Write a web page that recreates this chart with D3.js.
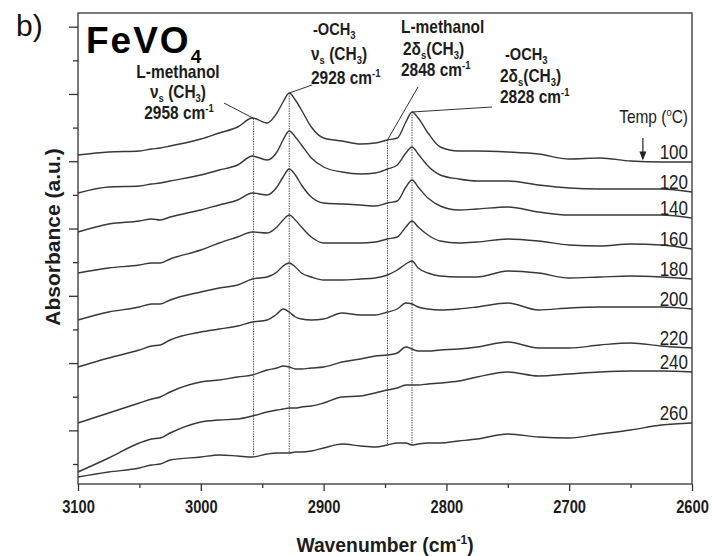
<!DOCTYPE html>
<html>
<head>
<meta charset="utf-8" />
<script src="https://d3js.org/d3.v7.min.js"></script>
<style>
  body { margin: 0; background: #fff; }
  svg { display: block; font-family: "Liberation Sans", Arial, sans-serif; }
  .curve { fill: none; stroke: #383838; stroke-width: 1.4px; }
  .marker { stroke: #555; stroke-width: 1px; stroke-dasharray: 1.5, 1; }
  .lead { stroke: #333; stroke-width: 1px; }
  .ann { font-weight: bold; fill: #1c1c1c; }
  .axis line { stroke: #333; stroke-width: 1.3px; }
  .axis path { display: none; }
  .axis text { font-family: "Liberation Sans", Arial, sans-serif; font-weight: bold; font-size: 17.5px; fill: #1c1c1c; }
  .temp { font-size: 20px; fill: #222; text-anchor: end; }
</style>
</head>
<body>
<svg width="712" height="556"></svg>
<script>
  // wavenumber grid (cm-1), shared by every spectrum
  const wavenumbers = [3100, 3075, 3050, 3040, 3033, 3025, 3000, 2985, 2970, 2958, 2946,
    2938, 2933, 2928, 2923, 2918, 2910, 2900, 2885, 2870, 2858, 2848, 2840, 2833, 2828,
    2823, 2815, 2805, 2790, 2775, 2750, 2725, 2700, 2675, 2650, 2625, 2600];

  const temps = [100, 120, 140, 160, 180, 200, 220, 240, 260];

  // stacked absorbance (a.u., offset)
  const s100 = [32.9, 33.2, 33.3, 33.5, 33.6, 33.8, 34.5, 35.1, 35.7, 36.6, 36.1, 37.1, 38.2, 39.1, 38.4, 37.4, 35.7, 34.6, 34.3, 34.0, 34.1, 34.4, 34.6, 36.2, 37.2, 36.6, 35.1, 33.7, 33.3, 33.3, 33.2, 33.0, 32.5, 32.6, 32.3, 32.2, 32.2];
  const s120 = [29.1, 29.7, 29.8, 30.0, 30.1, 30.3, 30.9, 31.4, 31.9, 32.8, 32.4, 33.2, 34.4, 35.3, 34.7, 33.9, 32.6, 31.7, 31.2, 31.0, 31.1, 31.5, 31.9, 33.1, 33.7, 33.0, 31.8, 30.9, 30.5, 30.3, 30.3, 29.9, 29.6, 29.5, 29.5, 29.5, 29.2];
  const s140 = [25.2, 26.0, 26.3, 26.5, 26.4, 26.7, 27.4, 27.9, 28.4, 29.1, 28.9, 29.7, 30.7, 31.5, 30.9, 29.9, 28.7, 28.1, 28.0, 27.9, 27.8, 28.1, 28.3, 29.7, 30.4, 29.7, 28.6, 27.8, 27.4, 27.5, 27.7, 27.2, 26.9, 26.9, 26.9, 26.9, 26.6];
  const s160 = [21.1, 21.6, 21.9, 22.1, 22.1, 22.5, 23.4, 24.1, 24.7, 25.2, 25.1, 25.7, 26.4, 26.9, 26.4, 25.7, 24.7, 24.1, 24.1, 24.1, 24.2, 24.5, 24.7, 25.7, 26.3, 25.7, 24.9, 24.3, 24.1, 24.2, 24.5, 24.3, 23.9, 23.8, 24.0, 23.9, 23.5];
  const s180 = [16.4, 17.2, 17.7, 18.0, 18.0, 18.4, 19.2, 19.6, 19.9, 20.5, 20.7, 21.2, 21.8, 22.1, 21.7, 21.1, 20.7, 20.4, 20.4, 20.5, 20.6, 20.9, 21.4, 22.0, 22.3, 21.6, 21.1, 20.8, 20.7, 20.7, 21.3, 21.1, 20.6, 20.7, 20.8, 20.7, 20.5];
  const s200 = [11.7, 12.6, 13.4, 13.8, 13.9, 14.4, 15.2, 15.5, 15.8, 16.2, 16.4, 17.0, 17.5, 17.2, 16.7, 16.5, 16.4, 16.5, 17.1, 16.9, 16.9, 17.2, 17.5, 18.1, 18.0, 17.7, 17.5, 17.4, 17.5, 17.7, 18.1, 17.4, 17.6, 17.7, 17.7, 17.7, 17.5];
  const s220 = [6.1, 7.1, 8.1, 8.5, 8.7, 9.2, 10.2, 10.4, 10.7, 10.9, 11.4, 11.6, 11.8, 11.7, 11.5, 11.5, 11.6, 11.7, 12.2, 12.5, 12.8, 12.9, 13.1, 13.7, 13.5, 13.3, 13.3, 13.4, 13.5, 13.7, 14.2, 13.6, 13.6, 13.9, 14.1, 13.8, 13.6];
  const s240 = [1.2, 2.6, 4.1, 4.5, 4.6, 5.1, 6.2, 6.4, 6.5, 6.8, 7.2, 7.4, 7.5, 7.6, 7.6, 7.7, 7.8, 8.1, 8.7, 8.8, 9.1, 9.4, 9.6, 9.9, 9.9, 9.9, 10.0, 10.1, 10.3, 10.7, 11.2, 10.8, 11.0, 11.2, 11.3, 11.3, 11.2];
  const s260 = [0.7, 1.2, 1.6, 1.9, 2.0, 2.4, 2.7, 2.9, 2.8, 2.7, 3.0, 3.1, 3.1, 3.1, 3.2, 3.2, 3.3, 3.6, 4.0, 3.8, 3.7, 3.9, 4.1, 4.1, 3.9, 4.0, 4.1, 4.1, 4.3, 4.5, 5.0, 4.7, 4.6, 5.0, 5.4, 5.9, 6.1];

  const spectra = [s100, s120, s140, s160, s180, s200, s220, s240, s260];

  // band positions marked by dotted lines
  const bands = [2957, 2928, 2848, 2828];
  const xMajor = [3100, 3000, 2900, 2800, 2700, 2600];
  const xMinor = [3050, 2950, 2850, 2750, 2650];
  const yTicks = d3.range(14).map((i) => 2 + i * 3.364);
  const arrowAt = 2640;

  const svg = d3.select("svg");
  const x = d3.scaleLinear().domain([3100, 2600]).range([78, 692]);
  const y = d3.scaleLinear().domain([0, 47.1]).range([484, 13]);

  function valueAt(s, wn) {
    for (let i = 0; i < wavenumbers.length - 1; i++) {
      const a = wavenumbers[i], b = wavenumbers[i + 1];
      if (wn <= a && wn >= b) {
        const t = (a - wn) / (a - b);
        return s[i] + t * (s[i + 1] - s[i]);
      }
    }
    return s[s.length - 1];
  }

  // axes
  const xg = svg.append("g").attr("class", "axis").attr("transform", "translate(0,484)")
    .call(d3.axisBottom(x).tickValues(xMajor).tickSize(7).tickPadding(10).tickFormat(d3.format("d")));
  xg.selectAll("text").attr("transform", "scale(0.84,1)");
  svg.append("g").attr("class", "axis").attr("transform", "translate(0,484)")
    .call(d3.axisBottom(x).tickValues(xMinor).tickSize(4).tickFormat(""));
  svg.append("g").attr("class", "axis").attr("transform", "translate(78,0)")
    .call(d3.axisLeft(y).tickValues(yTicks.filter((d, i) => i % 2 === 1)).tickSize(9).tickFormat(""));
  svg.append("g").attr("class", "axis").attr("transform", "translate(78,0)")
    .call(d3.axisLeft(y).tickValues(yTicks.filter((d, i) => i % 2 === 0)).tickSize(5).tickFormat(""));

  svg.append("rect").attr("x", 78).attr("y", 13).attr("width", 614).attr("height", 471)
    .attr("fill", "none").attr("stroke", "#333").attr("stroke-width", 1.3);

  // dotted band markers from top to bottom spectrum
  svg.selectAll(".marker").data(bands).enter().append("line")
    .attr("class", "marker")
    .attr("x1", (d) => x(d)).attr("x2", (d) => x(d))
    .attr("y1", (d) => y(valueAt(s100, d)))
    .attr("y2", (d) => y(valueAt(s260, d)));

  const line = d3.line()
    .x((d, i) => x(wavenumbers[i]))
    .y((d) => y(d))
    .curve(d3.curveMonotoneX);

  svg.selectAll(".curve").data(spectra).enter().append("path")
    .attr("class", "curve").attr("d", line);

  // temperature labels
  svg.selectAll(".temp").data(temps).enter().append("text")
    .attr("class", "temp")
    .attr("transform", (d, i) => `translate(688,${y(spectra[i][spectra[i].length - 1]) - 3}) scale(0.85,1)`)
    .text((d) => d);

  // Temp header + arrow
  const tt = svg.append("text").attr("transform", "translate(688,123) scale(0.86,1)").attr("text-anchor", "end")
    .style("font-size", "18px").attr("fill", "#1c1c1c");
  tt.append("tspan").text("Temp (");
  tt.append("tspan").attr("dy", -7).style("font-size", "11px").text("o");
  tt.append("tspan").attr("dy", 7).text("C)");
  const ax = x(arrowAt), ay = y(valueAt(s100, arrowAt)) - 1;
  svg.append("line").attr("x1", ax).attr("x2", ax).attr("y1", 138).attr("y2", ay - 4)
    .attr("stroke", "#222").attr("stroke-width", 1.2);
  svg.append("path").attr("d", `M${ax - 3.5},${ay - 9}L${ax},${ay}L${ax + 3.5},${ay - 9}Z`).attr("fill", "#222");

  // annotation text helper (condensed bold, with sub/superscripts)
  function rich(x0, y0, anchor, parts, size) {
    const t = svg.append("text").attr("class", "ann")
      .attr("transform", `translate(${x0},${y0}) scale(0.86,1)`)
      .attr("text-anchor", anchor).style("font-size", size + "px");
    let shift = 0;
    parts.forEach(([s, k]) => {
      const target = k === "sub" ? 4 : k === "sup" ? -7 : 0;
      t.append("tspan").attr("dy", target - shift)
        .style("font-size", k ? "11px" : null).text(s);
      shift = target;
    });
  }

  const vs = [["ν"], ["s", "sub"], [" (CH"], ["3", "sub"], [")"]];
  const d2 = [["2δ"], ["s", "sub"], ["(CH"], ["3", "sub"], [")"]];
  const och = [["-OCH"], ["3", "sub"]];

  rich(178, 78, "middle", [["L-methanol"]], 18);
  rich(178, 98, "middle", vs, 18);
  rich(179, 119, "middle", [["2958 cm"], ["-1", "sup"]], 18);

  rich(313, 35, "start", och, 17);
  rich(311, 60, "start", vs, 18);
  rich(311, 84, "start", [["2928 cm"], ["-1", "sup"]], 18);

  rich(401, 33, "start", [["L-methanol"]], 18);
  rich(403, 55, "start", d2, 18);
  rich(401, 76, "start", [["2848 cm"], ["-1", "sup"]], 18);

  rich(505, 60, "start", och, 17);
  rich(500, 82, "start", d2, 18);
  rich(500, 103, "start", [["2828 cm"], ["-1", "sup"]], 18);

  // leader lines from band peaks to labels
  const leadEnds = [[224, 103], [312, 85], [418, 87], [492, 107]];
  bands.forEach((b, i) => {
    svg.append("line").attr("class", "lead")
      .attr("x1", x(b)).attr("y1", y(valueAt(s100, b)))
      .attr("x2", leadEnds[i][0]).attr("y2", leadEnds[i][1]);
  });

  // titles
  svg.append("text").attr("x", 16).attr("y", 36).style("font-size", "30px").attr("fill", "#111").text("b)");
  const fe = svg.append("text").attr("x", 86).attr("y", 53).style("font-size", "37px")
    .style("font-weight", "bold").style("letter-spacing", "2px").attr("fill", "#000");
  fe.append("tspan").text("FeVO");
  fe.append("tspan").attr("dy", 10).style("font-size", "19px").style("letter-spacing", "0").text("4");

  const xt = svg.append("text").attr("transform", "translate(385,552) scale(0.92,1)").attr("text-anchor", "middle")
    .style("font-size", "21px").style("font-weight", "bold").attr("fill", "#1c1c1c");
  xt.append("tspan").text("Wavenumber (cm");
  xt.append("tspan").attr("dy", -8).style("font-size", "13px").text("-1");
  xt.append("tspan").attr("dy", 8).text(")");

  svg.append("text").attr("transform", "translate(60,237) rotate(-90)").attr("text-anchor", "middle")
    .style("font-size", "21px").style("font-weight", "bold").attr("fill", "#1c1c1c")
    .text("Absorbance (a.u.)");
</script>
</body>
</html>
